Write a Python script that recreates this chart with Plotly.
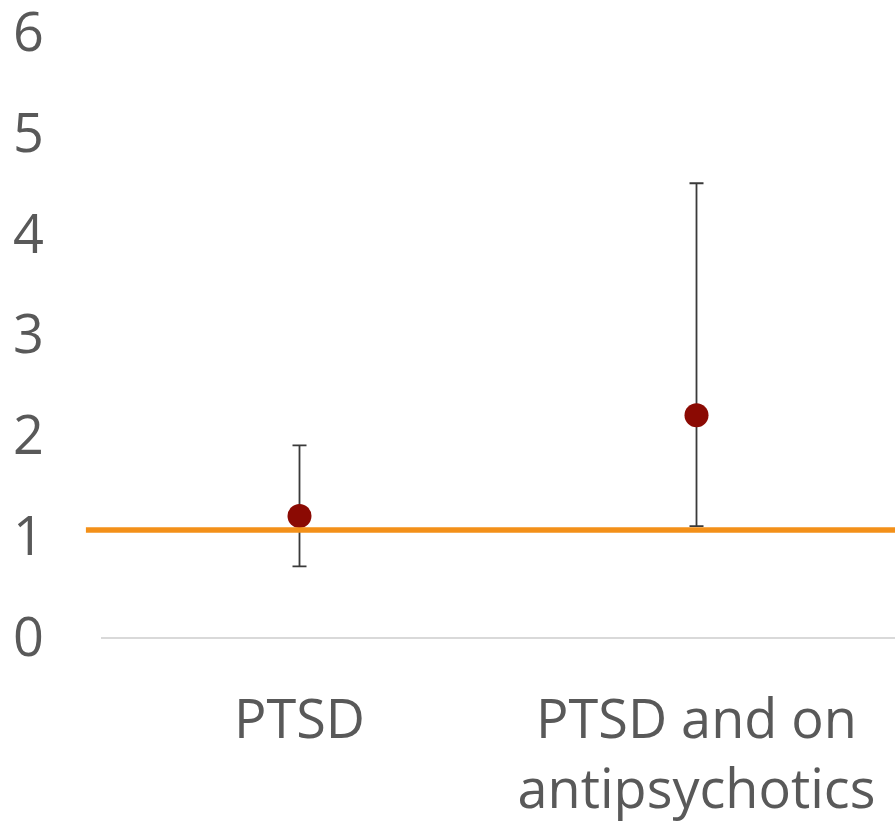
import plotly.graph_objects as go

# Odds ratios with 95% confidence limits per group
groups = ["PTSD", "PTSD and on<br>antipsychotics"]
estimate = [1.20, 2.20]
upper_ci = [1.90, 4.50]
lower_ci = [0.70, 1.10]
reference_value = 1.06

y_ticks = [0, 1, 2, 3, 4, 5, 6]

err_plus = [u - e for u, e in zip(upper_ci, estimate)]
err_minus = [e - l for e, l in zip(estimate, lower_ci)]

fig = go.Figure()
fig.add_trace(go.Scatter(
    x=groups,
    y=estimate,
    mode="markers",
    marker=dict(color="#8B0A03", size=24),
    error_y=dict(
        type="data",
        symmetric=False,
        array=err_plus,
        arrayminus=err_minus,
        color="#3A3A3A",
        thickness=1.8,
        width=7,
    ),
    cliponaxis=False,
    showlegend=False,
))

# Reference line across the chart
fig.add_shape(
    type="line",
    xref="paper", yref="y",
    x0=-0.019, x1=1.0,
    y0=reference_value, y1=reference_value,
    line=dict(color="#F39019", width=5.5),
    layer="above",
)

font_main = dict(family="Open Sans", size=54, color="#595959")

fig.update_layout(
    width=895,
    height=829,
    margin=dict(l=101, r=0, t=32, b=192, autoexpand=False),
    paper_bgcolor="white",
    plot_bgcolor="white",
    xaxis=dict(
        type="category",
        range=[-0.5, 1.5],
        showgrid=False,
        showline=True,
        linecolor="#D9D9D9",
        linewidth=1.5,
        ticks="",
        tickfont=font_main,
        ticklabelstandoff=34,
        ticklabeloverflow="allow",
        automargin=False,
    ),
    yaxis=dict(
        range=[0, 6],
        tickvals=y_ticks,
        ticktext=[str(v) for v in y_ticks],
        showgrid=False,
        zeroline=False,
        showline=False,
        ticks="",
        tickfont=font_main,
        ticklabelstandoff=56,
        ticklabeloverflow="allow",
        automargin=False,
    ),
)

fig.write_html("out.html")
